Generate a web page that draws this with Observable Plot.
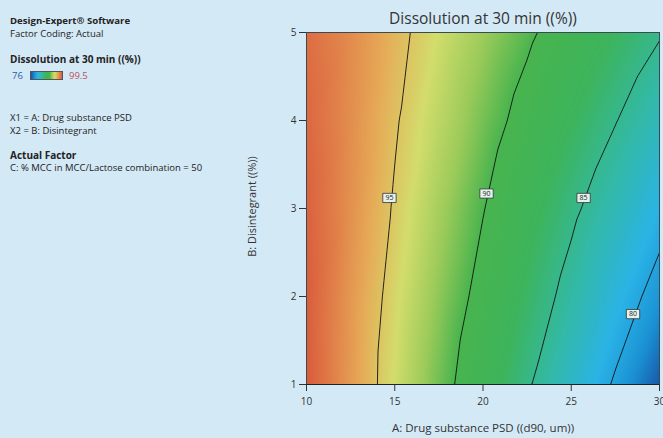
<!DOCTYPE html>
<html><head><meta charset="utf-8">
<script src="https://cdn.jsdelivr.net/npm/d3@7"></script>
<script src="https://cdn.jsdelivr.net/npm/@observablehq/plot@0.6"></script>
<style>
body{margin:0;background:#d4e9f6;font-family:"Open Sans",sans-serif;}
#wrap{position:relative;width:663px;height:438px;overflow:hidden;background:#d4e9f6;}
#wrap svg{position:absolute;left:0;top:0;}
.t{position:absolute;white-space:nowrap;color:#222;}
.b{font-weight:bold;}
</style></head><body><div id="wrap"></div>
<script>
// Factor A grid (Drug substance PSD, d90 um) and factor B grid (Disintegrant %)
const xValues = [10, 12.5, 15, 17.5, 20, 22.5, 25, 27.5, 30];
const yValues = [1, 2, 3, 4, 5];
// Dissolution at 30 min (%), one row per B level
const dissolution = [
  [99.5, 96.7, 93.9, 91.0, 88.2, 85.3, 82.5, 79.7, 76.3],
  [99.4, 96.8, 94.3, 91.7, 89.2, 86.6, 84.1, 81.5, 79.0],
  [99.2, 97.1, 94.8, 92.4, 90.1, 87.8, 85.5, 83.3, 81.0],
  [98.9, 97.2, 95.2, 93.2, 91.1, 89.1, 87.1, 85.1, 83.1],
  [98.6, 97.3, 95.6, 93.9, 92.1, 90.4, 88.7, 86.9, 85.2]
];
const contourLevels = [80, 85, 90, 95];
const contourLabels = [
  {x: 14.7, y: 3.12, label: "95"},
  {x: 20.2, y: 3.17, label: "90"},
  {x: 25.7, y: 3.12, label: "85"},
  {x: 28.5, y: 1.8, label: "80"}
];
const colorValues = [76, 78.5, 81, 84, 87, 90, 92, 94, 96, 98, 99.5];
const colorRange = ["#1852a3", "#1a8fd2", "#2ab3e6", "#33b9a6", "#3db45c", "#48b44e", "#9ccb5a", "#d3dd6c", "#e6ab57", "#e07b48", "#d95b3b"];
const xTicks = [10, 15, 20, 25, 30];
const yTicks = [1, 2, 3, 4, 5];
const legendMin = "76", legendMax = "99.5";

const grid = [];
yValues.forEach((y, i) => xValues.forEach((x, j) => grid.push({x, y, v: dissolution[i][j]})));

const boxSymbol = {draw(ctx, size) { const r = Math.sqrt(size / Math.PI); ctx.rect(-r * 1.45, -r, r * 2.9, r * 2); }};

const plot = Plot.plot({
  width: 663, height: 438,
  marginLeft: 306, marginRight: 4, marginTop: 32, marginBottom: 54,
  style: {background: "transparent", fontFamily: "Open Sans, sans-serif"},
  x: {domain: [10, 30]},
  y: {domain: [1, 5]},
  color: {type: "linear", domain: colorValues, range: colorRange, interpolate: "rgb"},
  marks: [
    Plot.raster(grid, {x: "x", y: "y", fill: "v", interpolate: "barycentric", pixelSize: 1}),
    Plot.contour(grid, {x: "x", y: "y", value: "v", interpolate: "barycentric", thresholds: contourLevels, stroke: "#111", strokeWidth: 0.9, fill: "none", pixelSize: 1}),
    Plot.dot(contourLabels, {x: "x", y: "y", symbol: boxSymbol, r: 4.6, fill: "#e4f2ee", stroke: "#333", strokeWidth: 0.8}),
    Plot.text(contourLabels, {x: "x", y: "y", text: "label", fontSize: 7, fill: "#222"}),
    Plot.frame({stroke: "#3a4a55", strokeWidth: 1}),
    Plot.axisX({ticks: xTicks, tickSize: 7, tickPadding: 6, fontSize: 10, label: null, tickFormat: "d", stroke: "#333", color: "#333"}),
    Plot.axisY({ticks: yTicks, tickSize: 7, tickPadding: 3, fontSize: 10, label: null, tickFormat: "d", stroke: "#333", color: "#333"}),
    Plot.ruleY([1], {stroke: "#222"})
  ]
});
const wrap = document.getElementById("wrap");
wrap.appendChild(plot);

function addText(txt, css, cls) {
  const d = document.createElement("div");
  d.className = "t " + (cls || "");
  d.textContent = txt;
  Object.assign(d.style, css);
  wrap.appendChild(d);
  return d;
}
addText("Dissolution at 30 min ((%))", {left: "306px", width: "354px", textAlign: "center", top: "7px", fontSize: "15.5px", color: "#333"});
addText("A: Drug substance PSD ((d90, um))", {left: "306px", width: "354px", textAlign: "center", top: "420px", fontSize: "11.5px", color: "#333"});
addText("B: Disintegrant ((%))", {left: "191px", width: "120px", textAlign: "center", top: "199px", fontSize: "11px", color: "#333", transform: "rotate(-90deg)"});

addText("Design-Expert® Software", {left: "10px", top: "14px", fontSize: "9.6px"}, "b");
addText("Factor Coding: Actual", {left: "10px", top: "27px", fontSize: "9.5px"});
addText("Dissolution at 30 min ((%))", {left: "10px", top: "52px", fontSize: "10px"}, "b");
addText(legendMin, {left: "12px", top: "69px", fontSize: "9.5px", color: "#2a5fa6"});
addText(legendMax, {left: "69px", top: "69px", fontSize: "9.5px", color: "#c0505c"});
const bar = document.createElement("div");
const stops = colorValues.map((v, i) => `${colorRange[i]} ${((v - colorValues[0]) / (colorValues[colorValues.length - 1] - colorValues[0]) * 100).toFixed(1)}%`).join(",");
Object.assign(bar.style, {position: "absolute", left: "30px", top: "71px", width: "33px", height: "9px", background: `linear-gradient(to right, ${stops})`, border: "1px solid #555", boxSizing: "border-box"});
wrap.appendChild(bar);
addText("X1 = A: Drug substance PSD", {left: "10px", top: "111px", fontSize: "9.5px"});
addText("X2 = B: Disintegrant", {left: "10px", top: "124px", fontSize: "9.5px"});
addText("Actual Factor", {left: "10px", top: "148px", fontSize: "10px"}, "b");
addText("C: % MCC in MCC/Lactose combination = 50", {left: "10px", top: "161px", fontSize: "9.5px"});
</script></body></html>
